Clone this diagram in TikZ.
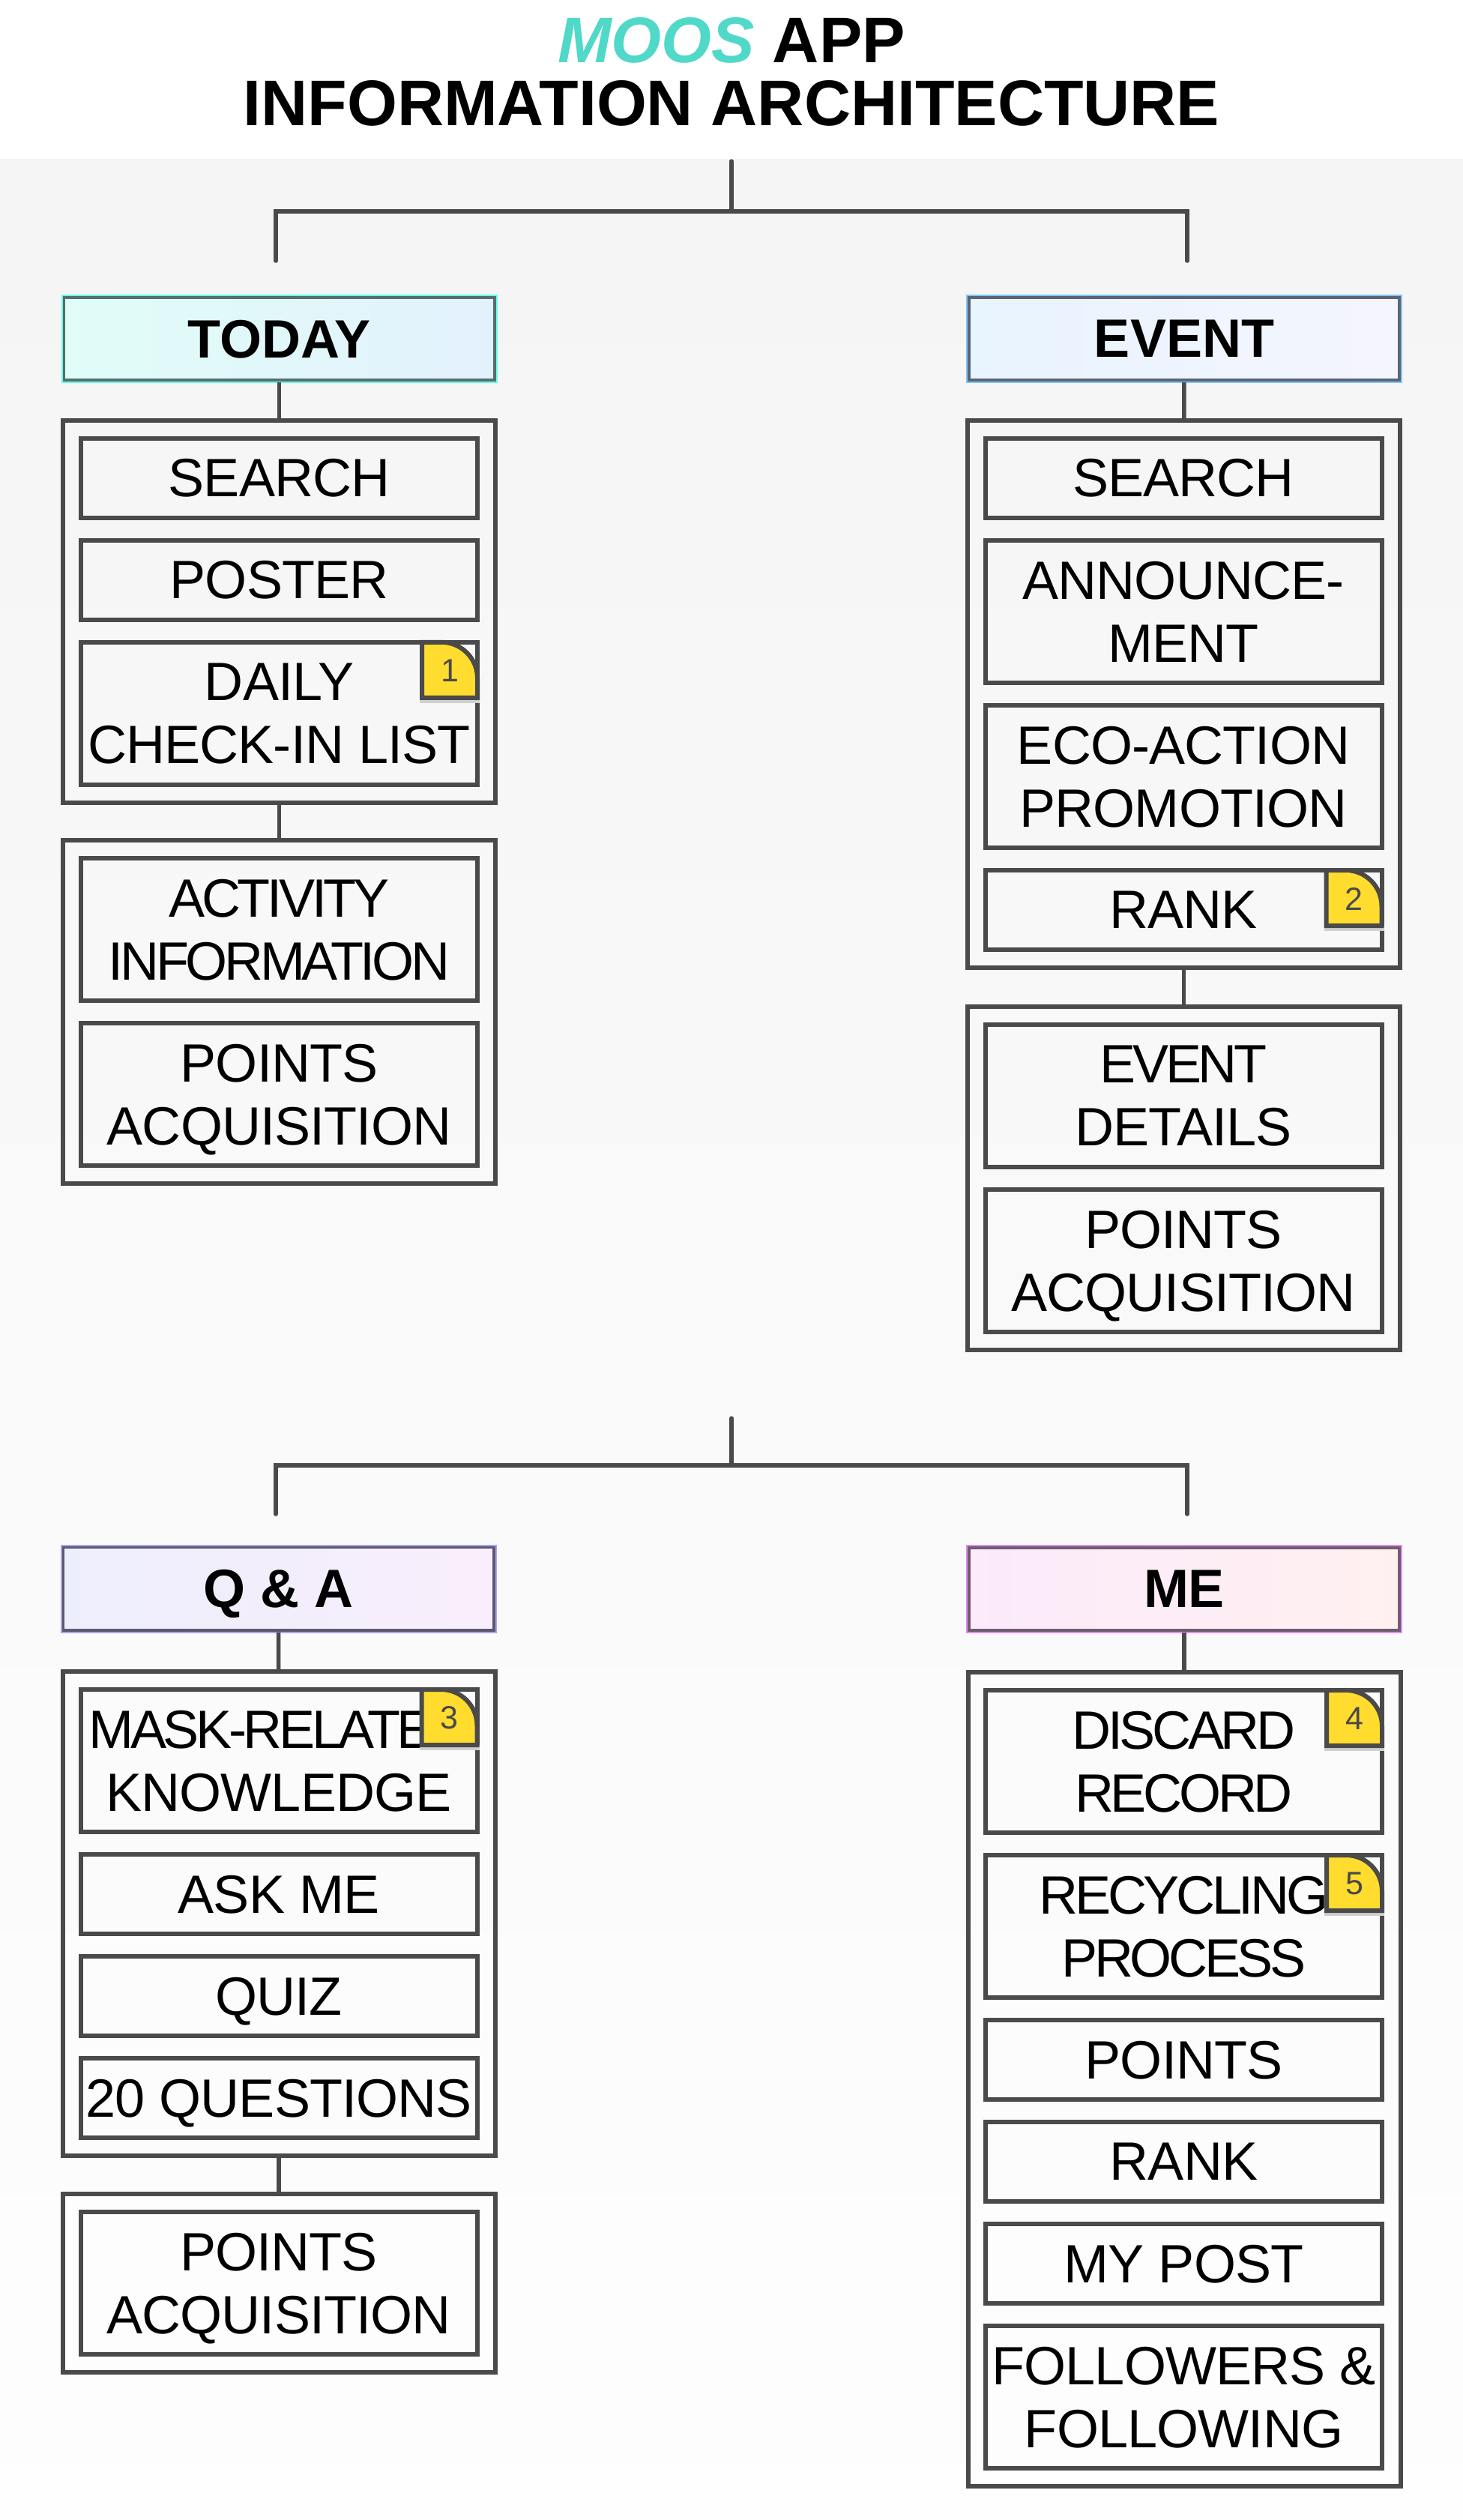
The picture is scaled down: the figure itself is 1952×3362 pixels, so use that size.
\documentclass[tikz,border=0pt]{standalone}
\usepackage{fontspec}
\setmainfont{Liberation Sans}
\newfontfamily\itemfont[LetterSpace=-1.2]{Liberation Sans}
\newfontfamily\tightfont[LetterSpace=-6]{Liberation Sans}
\usetikzlibrary{positioning}

\definecolor{linegray}{HTML}{4A4A4A}
\definecolor{mooscolor}{HTML}{50D8C8}
\definecolor{notecolor}{HTML}{FFDC2E}
\definecolor{dropcolor}{HTML}{CFCFCF}
\definecolor{todayleft}{HTML}{E0FDF8}
\definecolor{todayright}{HTML}{E3F1FC}
\definecolor{todayedge}{HTML}{66FFE6}
\definecolor{todaydark}{HTML}{54706E}
\definecolor{eventleft}{HTML}{E8F4FE}
\definecolor{eventright}{HTML}{F5F5FE}
\definecolor{eventedge}{HTML}{80C4FF}
\definecolor{eventdark}{HTML}{5A6672}
\definecolor{qaleft}{HTML}{EDEEFC}
\definecolor{qaright}{HTML}{F9EEFC}
\definecolor{qaedge}{HTML}{A8A4EC}
\definecolor{qadark}{HTML}{5C5870}
\definecolor{meleft}{HTML}{FBEBFB}
\definecolor{meright}{HTML}{FFF0F0}
\definecolor{meedge}{HTML}{E08CF0}
\definecolor{medark}{HTML}{705C70}

\tikzset{
    panel/.style={draw=linegray, line width=3pt, minimum width=288.5pt, inner sep=0pt, outer sep=0pt},
    itembox/.style={draw=linegray, line width=3pt, minimum width=264.5pt, minimum height=53pt,
        inner sep=0pt, outer sep=0pt, text depth=-1.2pt, align=center, font={\fontsize{36}{42}\selectfont\itemfont}},
    tallbox/.style={itembox, minimum height=95pt},
    tightbox/.style={tallbox, font={\fontsize{36}{42}\selectfont\tightfont}},
    headbox/.style n args={4}{left color=#1, right color=#2, draw=#3, line width=1pt,
        minimum width=290pt, minimum height=58pt, inner sep=0pt, outer sep=0pt, text depth=-4pt,
        font={\fontsize{36}{42}\selectfont\bfseries},
        path picture={\draw[#4, line width=4.7pt] (path picture bounding box.north west)
            rectangle (path picture bounding box.south east);}},
    link/.style={draw=linegray, line width=2.75pt},
    bracket/.style={link, line cap=round},
    notefold/.style={draw=linegray, fill=notecolor, line width=3pt},
    notenum/.style={text=linegray, inner sep=0pt, font={\fontsize{21.5}{24}\selectfont}},
}

\newcommand{\notemark}[3]{
    \fill[dropcolor] ([shift={(-38.5pt,-37pt)}]#1.north east) rectangle ([shift={(1.5pt,-40.5pt)}]#1.north east);
    \draw[notefold] ([xshift=-37pt]#1.north east) -- ([xshift=-24pt]#1.north east)
        arc[start angle=90, end angle=0, radius=24pt] -- ([yshift=-37pt]#1.north east)
        -- ([shift={(-37pt,-37pt)}]#1.north east) -- cycle;
    \node[notenum] (#2) at ([shift={(-18.5pt,-19pt)}]#1.north east) {#3};
}

\begin{document}
\begin{tikzpicture}[x=0.5pt, y=-0.5pt]
    \useasboundingbox (0,0) rectangle (1952,3362);
    \fill[white] (0,0) rectangle (1952,212);
    \shade[top color=black!4, bottom color=black!0.5] (0,212) rectangle (1952,3362);

    \node[align=center, font={\fontsize{43}{42}\selectfont\bfseries}] (title) at (976,96)
        {\textcolor{mooscolor}{\itshape MOOS} APP\\INFORMATION ARCHITECTURE};

    % upper tree
    \coordinate (root_a) at (976,215);
    \coordinate (fork_a) at (976,282);
    \coordinate (arm_today) at (368,348);
    \coordinate (arm_event) at (1584,348);
    \draw[bracket] (root_a) -- (fork_a);
    \draw[bracket] (arm_today) |- (fork_a) -| (arm_event);

    \node[headbox={todayleft}{todayright}{todayedge}{todaydark}] (today) at (372.5,452) {TODAY};
    \node[panel, minimum height=255pt] (today_top) at (372.5,816) {};
    \node[panel, minimum height=229pt] (today_low) at (372.5,1350) {};
    \node[itembox] (today_search) at (372.5,637.6) {SEARCH};
    \node[itembox] (today_poster) at (372.5,773.7) {POSTER};
    \node[tallbox] (today_daily) at (372.5,951.8) {DAILY\\CHECK-IN LIST};
    \node[tightbox] (today_activity) at (372.5,1240) {ACTIVITY\\INFORMATION};
    \node[tallbox] (today_points) at (372.5,1460) {POINTS\\ACQUISITION};
    \draw[link] (today) -- (today_top);
    \draw[link] (today_top) -- (today_low);
    \notemark{today_daily}{note_1}{1}

    \node[headbox={eventleft}{eventright}{eventedge}{eventdark}] (event) at (1580,452) {EVENT};
    \node[panel, minimum height=365pt] (event_top) at (1579.5,926) {};
    \node[panel, minimum height=229pt] (event_low) at (1579.5,1572) {};
    \node[itembox] (event_search) at (1579,637.6) {SEARCH};
    \node[tallbox] (event_news) at (1579,816) {ANNOUNCE-\\MENT};
    \node[tallbox] (event_eco) at (1579,1036) {ECO-ACTION\\PROMOTION};
    \node[itembox] (event_rank) at (1579,1214) {RANK};
    \node[tallbox] (event_details) at (1579,1462) {{\tightfont EVENT}\\DETAILS};
    \node[tallbox] (event_points) at (1579,1682) {POINTS\\ACQUISITION};
    \draw[link] (event) -- (event_top);
    \draw[link] (event_top) -- (event_low);
    \notemark{event_rank}{note_2}{2}

    % lower tree
    \coordinate (root_b) at (976,1892);
    \coordinate (fork_b) at (976,1955);
    \coordinate (arm_qa) at (368,2020);
    \coordinate (arm_me) at (1584,2020);
    \draw[bracket] (root_b) -- (fork_b);
    \draw[bracket] (arm_qa) |- (fork_b) -| (arm_me);

    \node[headbox={qaleft}{qaright}{qaedge}{qadark}] (qa) at (371.5,2119.5) {Q \& A};
    \node[panel, minimum height=323pt] (qa_top) at (372,2553) {};
    \node[panel, minimum height=119pt] (qa_low) at (372,3046) {};
    \node[tallbox] (qa_mask) at (372,2349) {{\tightfont MASK-RELATED}\\KNOWLEDGE};
    \node[itembox] (qa_ask) at (372,2527) {ASK ME};
    \node[itembox] (qa_quiz) at (372,2663) {QUIZ};
    \node[itembox] (qa_twenty) at (372,2799) {20 QUESTIONS};
    \node[tallbox] (qa_points) at (372,3046) {POINTS\\ACQUISITION};
    \draw[link] (qa) -- (qa_top);
    \draw[link] (qa_top) -- (qa_low);
    \notemark{qa_mask}{note_3}{3}

    \node[headbox={meleft}{meright}{meedge}{medark}] (me) at (1580,2120) {ME};
    \node[panel, minimum height=543pt] (me_top) at (1580,2774) {};
    \node[tightbox] (me_discard) at (1579.5,2350) {DISCARD\\RECORD};
    \node[tightbox] (me_recycle) at (1579.5,2570) {RECYCLING\\PROCESS};
    \node[itembox] (me_points) at (1579.5,2748) {POINTS};
    \node[itembox] (me_rank) at (1579.5,2884) {RANK};
    \node[itembox] (me_post) at (1579.5,3020) {MY POST};
    \node[tallbox] (me_follow) at (1579.5,3198) {FOLLOWERS \&\\FOLLOWING};
    \draw[link] (me) -- (me_top);
    \notemark{me_discard}{note_4}{4}
    \notemark{me_recycle}{note_5}{5}
\end{tikzpicture}
\end{document}
